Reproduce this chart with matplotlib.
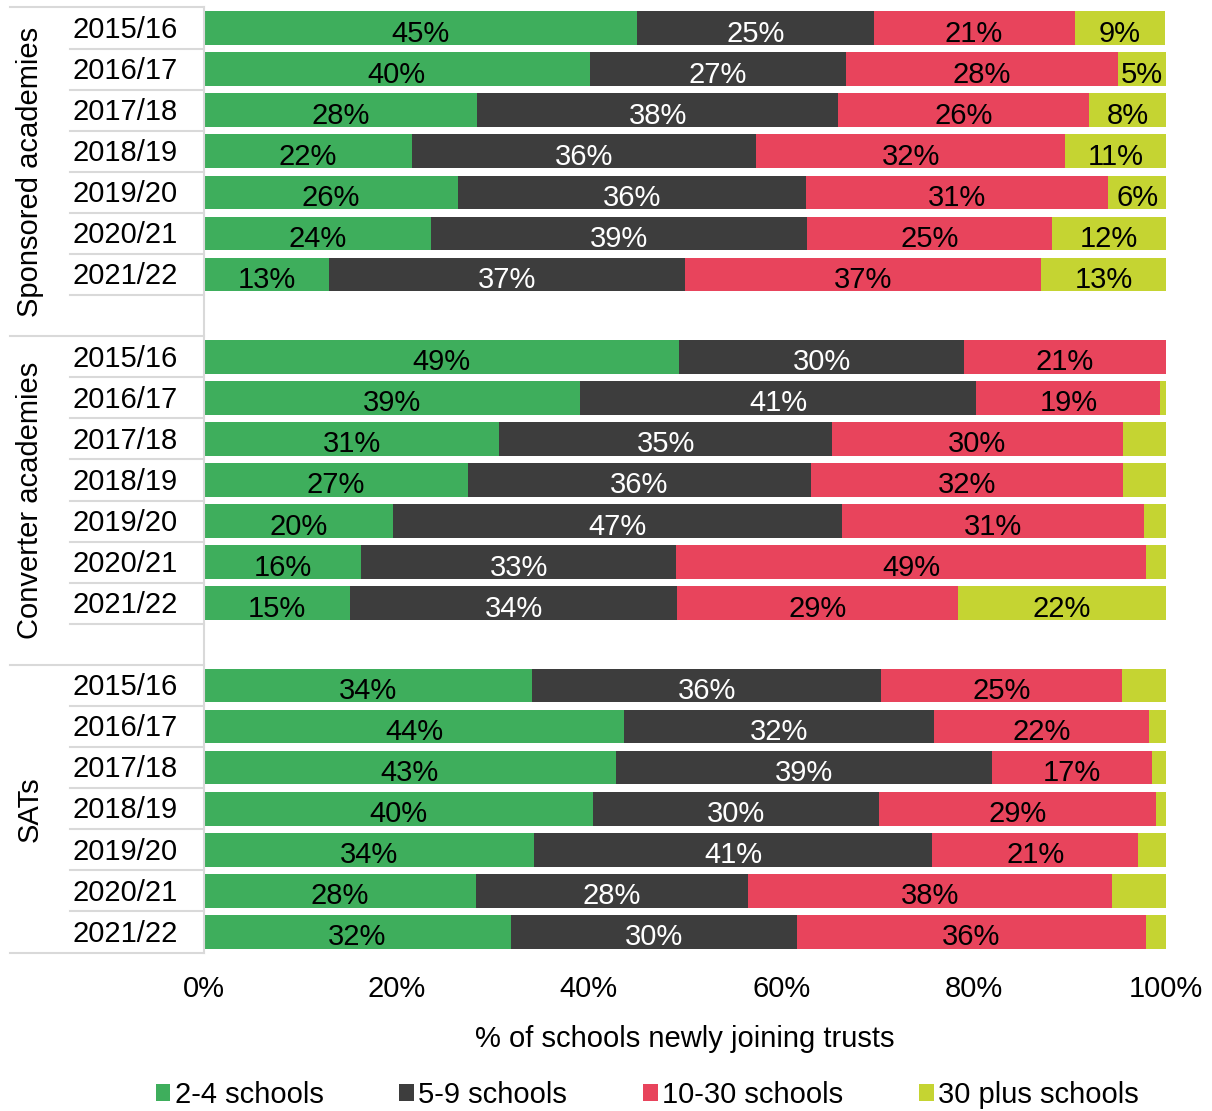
import numpy as np
import matplotlib
matplotlib.use('Agg')
import matplotlib.pyplot as plt
from matplotlib.patches import Patch
import matplotlib.transforms as mtransforms

plt.rcParams['font.family'] = ['Liberation Sans', 'DejaVu Sans']

# --- Data (percent of schools newly joining trusts) ---
years = ['2015/16', '2016/17', '2017/18', '2018/19', '2019/20', '2020/21', '2021/22']
groups = ['Sponsored academies', 'Converter academies', 'SATs']
series = ['2-4 schools', '5-9 schools', '10-30 schools', '30 plus schools']

sponsored_2_4 = [45.0, 40.1, 28.4, 21.6, 26.4, 23.6, 13.0]
sponsored_5_9 = [24.6, 26.6, 37.5, 35.8, 36.2, 39.1, 37.0]
sponsored_10_30 = [20.9, 28.3, 26.1, 32.1, 31.4, 25.4, 37.0]
sponsored_30_plus = [9.4, 5.0, 8.0, 10.6, 6.0, 11.9, 13.0]

converter_2_4 = [49.4, 39.1, 30.7, 27.4, 19.6, 16.3, 15.2]
converter_5_9 = [29.6, 41.2, 34.6, 35.7, 46.7, 32.8, 34.0]
converter_10_30 = [21.0, 19.1, 30.2, 32.4, 31.4, 48.8, 29.2]
converter_30_plus = [0.0, 0.6, 4.5, 4.5, 2.3, 2.1, 21.6]

sats_2_4 = [34.1, 43.7, 42.8, 40.4, 34.3, 28.3, 31.9]
sats_5_9 = [36.3, 32.2, 39.1, 29.8, 41.4, 28.2, 29.7]
sats_10_30 = [25.0, 22.3, 16.6, 28.8, 21.4, 37.9, 36.3]
sats_30_plus = [4.6, 1.8, 1.5, 1.0, 2.9, 5.6, 2.1]

data = {
    'Sponsored academies': [sponsored_2_4, sponsored_5_9, sponsored_10_30, sponsored_30_plus],
    'Converter academies': [converter_2_4, converter_5_9, converter_10_30, converter_30_plus],
    'SATs': [sats_2_4, sats_5_9, sats_10_30, sats_30_plus],
}
# segments that carry no value label in the original
unlabelled = {('SATs', 3)}

colors = ['#3EAE5C', '#3D3D3D', '#E8445C', '#C5D432']
text_colors = ['black', 'white', 'black', 'black']
grid_col = '#D9D9D9'
fs = 21

fig = plt.figure(figsize=(12.12, 11.11), dpi=100)
W, H = 1212, 1111
ax = fig.add_axes([204 / W, 1 - 952.5 / H, 962 / W, 945 / H])

# row positions: 7 rows per group, blank slot between groups
positions = {}
pos = 0
group_spans = []
for gi, g in enumerate(groups):
    start = pos
    positions[g] = list(range(pos, pos + len(years)))
    pos += len(years)
    if gi < len(groups) - 1:
        pos += 1
    group_spans.append((start, pos))
n_slots = pos

for g in groups:
    ys = np.array(positions[g])
    left = np.zeros(len(years))
    for si, vals in enumerate(data[g]):
        vals = np.array(vals)
        ax.barh(ys, vals, left=left, height=0.82, color=colors[si], edgecolor='none')
        for y, l, v in zip(ys, left, vals):
            if v >= 5 and (g, si) not in unlabelled:
                ax.text(l + v / 2, y + 0.06, f'{round(v):d}%', ha='center', va='center_baseline',
                        fontsize=fs, color=text_colors[si])
        left += vals

ax.set_xlim(0, 100)
ax.set_ylim(n_slots - 0.5, -0.5)
ax.set_xticks([0, 20, 40, 60, 80, 100])
ax.set_xticklabels([f'{t}%' for t in [0, 20, 40, 60, 80, 100]], fontsize=fs)
ax.tick_params(axis='x', length=0, pad=16)
ax.set_yticks([])
for side in ['top', 'right', 'bottom']:
    ax.spines[side].set_visible(False)
ax.spines['left'].set_color(grid_col)
ax.spines['left'].set_linewidth(1.5)
ax.set_xlabel('% of schools newly joining trusts', fontsize=fs, labelpad=16)

# year labels, row separators and group labels on the left
trans = mtransforms.blended_transform_factory(ax.transAxes, ax.transData)
x_year = (72 - 204) / 962
x_row = (70 - 204) / 962
x_grp = (10 - 204) / 962
x_grp_lab = (30 - 204) / 962
for gi, g in enumerate(groups):
    for y, yr in zip(positions[g], years):
        ax.text(x_year, y - 0.03, yr, ha='left', va='center_baseline', fontsize=fs, transform=trans)
    start, end = group_spans[gi]
    for b in range(start + 1, end):
        ax.plot([x_row, 0], [b - 0.5, b - 0.5], color=grid_col, lw=1.5,
                transform=trans, clip_on=False)
    ax.plot([x_grp, 0], [start - 0.5, start - 0.5], color=grid_col, lw=1.5,
            transform=trans, clip_on=False)
    ax.text(x_grp_lab, (start + end - 1) / 2, g, ha='center', va='center',
            rotation=90, fontsize=fs, transform=trans)
ax.plot([x_grp, 0], [n_slots - 0.5, n_slots - 0.5], color=grid_col, lw=1.5,
        transform=trans, clip_on=False)

handles = [Patch(facecolor=c, edgecolor='none', label=s) for c, s in zip(colors, series)]
fig.legend(handles=handles, loc='center', bbox_to_anchor=(0.534, 1 - 1095 / H), ncol=4,
           frameon=False, fontsize=fs, handlelength=0.5, handleheight=0.5,
           handletextpad=0.15, columnspacing=2.6)

fig.savefig('out.png', dpi=100)
